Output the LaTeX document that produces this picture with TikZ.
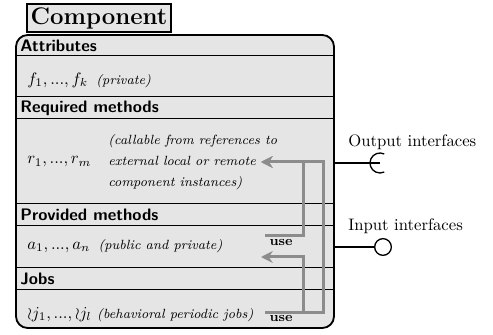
\documentclass[tikz,border=0pt]{standalone}
\usetikzlibrary{arrows.meta}

\tikzset{
  compbox/.style={draw, line width=1.1pt, fill=gray!20, rounded corners=7pt},
  titlebox/.style={draw, line width=1.1pt, fill=gray!20, inner sep=2pt, font=\Large\bfseries},
  rowline/.style={line width=0.6pt},
  header/.style={anchor=west, inner sep=0pt, font=\sffamily\bfseries},
  rowtext/.style={anchor=west, inner sep=0pt},
  note/.style={anchor=west, inner sep=0pt, font=\footnotesize\itshape, align=left},
  usearrow/.style={draw=gray!90!white, line width=1.8pt, -{Stealth[length=7pt,width=7pt]}},
  uselabel/.style={inner sep=0pt, font=\footnotesize\bfseries},
  iface/.style={line width=0.8pt},
}

\begin{document}
\begin{tikzpicture}[x=0.6pt,y=-0.6pt]
\useasboundingbox (0,0) rectangle (493,335);

%Shape: Component body
	\draw[compbox] (16,35) rectangle (334,328);
%Row separators
	\foreach \y in {56,97,119,204,226,268,290}
		\draw[rowline] (16,\y) -- (334,\y);

% Title Node
	\node[titlebox] (title) at (99,18) {Component};

% Text Node
	\node[header] (attr) at (20,46) {Attributes};
% Text Node
	\node[rowtext] (fields) at (27,80) {$f_1, ..., f_k$\enspace{\footnotesize\itshape (private)}};
% Text Node
	\node[header] (req) at (20,108) {Required methods};
% Text Node
	\node[rowtext] (reqm) at (27,162) {$r_1, ..., r_m$};
% Text Node
	\node[note] (reqnote) at (108,162) {(callable from references to\\[3pt] external local or remote\\[3pt] component instances)};
% Text Node
	\node[header] (prov) at (20,215) {Provided methods};
% Text Node
	\node[rowtext] (provm) at (27,246) {$a_1, ..., a_n$\enspace{\footnotesize\itshape (public and private)}};
% Text Node
	\node[header] (jobs) at (20,279) {Jobs};
% Text Node
	\node[rowtext] (jobm) at (27,314) {$\wr j_1, ..., \wr j_l$ {\footnotesize\itshape (behavioral periodic jobs)}};

%Use arrows
	\coordinate (usefromprov) at (265,236);
	\coordinate (usefromjobs) at (265,312);
	\coordinate (toreq) at (261,162);
	\coordinate (toprov) at (261,257);
	\draw[usearrow] (usefromprov) -| (303,162) -- (toreq);
	\draw[usearrow] (usefromjobs) -| (323,162) -- (toreq);
	\draw[usearrow] (usefromjobs) -| (303,257) -- (toprov);
% Text Node
	\node[uselabel] (use1) at (281,243) {use};
% Text Node
	\node[uselabel] (use2) at (281,319) {use};

%Output interface
	\coordinate (outport) at (334,163);
	\coordinate (outend) at (380,163);
	\draw[iface] (outport) -- (outend);
	\draw[iface] (outend) ++(-65:10) arc (-65:-295:10);
%Input interface
	\coordinate (inport) at (334,247);
	\node[circle, draw, iface, minimum size=10pt, inner sep=0pt] (inball) at (383,247) {};
	\draw[iface] (inport) -- (inball);
% Text Node
	\node[rowtext] (outlabel) at (348,142) {Output interfaces};
% Text Node
	\node[rowtext] (inlabel) at (348,226) {Input interfaces};

\end{tikzpicture}
\end{document}
